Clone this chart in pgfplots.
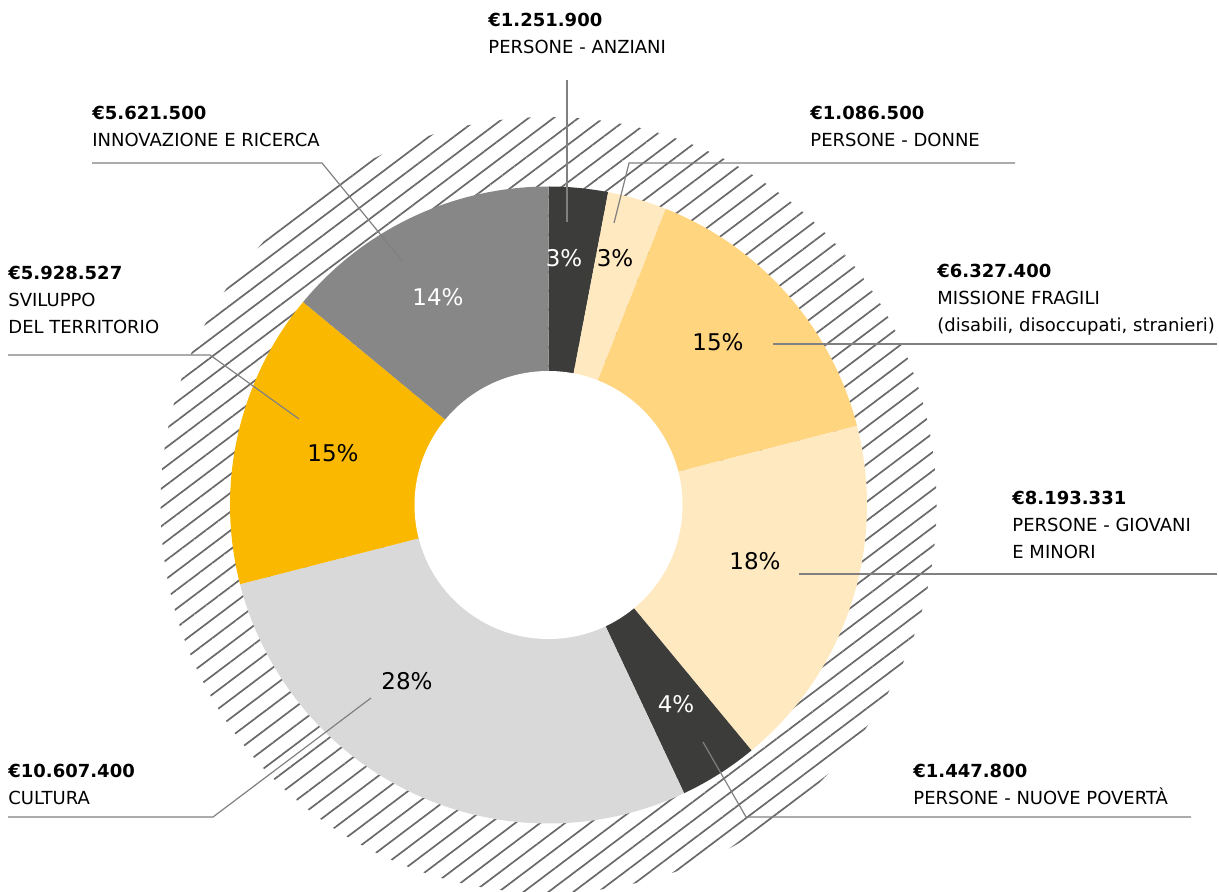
\documentclass[border=0pt]{standalone}
\usepackage{pgfplots}
\pgfplotsset{compat=1.18}
\usepackage{pgfplotstable}
\usetikzlibrary{patterns.meta}
\usepackage{fontspec}
\setmainfont{DejaVu Sans}

\definecolor{cDark}{RGB}{60,60,58}
\definecolor{cCream}{RGB}{255,233,192}
\definecolor{cFra}{RGB}{255,213,128}
\definecolor{cCul}{RGB}{217,217,217}
\definecolor{cTer}{RGB}{251,184,0}
\definecolor{cInn}{RGB}{135,135,135}
\definecolor{hatchgray}{RGB}{105,105,105}
\definecolor{leadgray}{RGB}{128,128,128}

% slice percentages (clockwise from 12 o'clock), fill colour, label position (px), label colour
\pgfplotstableread{
pct col    lx    ly   tc
3   cDark  564   258  white
3   cCream 615   258  black
15  cFra   718   342  black
18  cCream 755   561  black
4   cDark  676   704  white
28  cCul   407   681  black
15  cTer   333   453  black
14  cInn   438   297  white
}\slices

\newcommand{\amt}[1]{{\fontsize{9}{10}\selectfont\bfseries #1}}
\newcommand{\nm}[1]{{\fontsize{9}{10}\selectfont #1}}

\begin{document}
\begin{tikzpicture}
\begin{axis}[hide axis, scale only axis, width=609.5pt, height=446pt,
  xmin=0, xmax=1219, ymin=0, ymax=892, y dir=reverse, clip=true]
\pgfplotsextra{
  \path (axis cs:0,0) (axis cs:1219,892);
  % hatched background disc
  \fill[pattern={Lines[angle=37,distance=7.5pt,line width=0.85pt]}, pattern color=hatchgray]
     (axis cs:548.5,505) circle[radius=194pt];
  % slices
  \gdef\cum{0}
  \pgfplotstablegetrowsof{\slices}
  \pgfmathtruncatemacro\N{\pgfplotsretval-1}
  \foreach \i in {0,...,\N}{
    \pgfplotstablegetelem{\i}{pct}\of\slices \let\p\pgfplotsretval
    \pgfplotstablegetelem{\i}{col}\of\slices \let\c\pgfplotsretval
    \pgfmathsetmacro\aone{90-3.6*\cum}
    \pgfmathsetmacro\atwo{90-3.6*(\cum+\p)}
    \fill[\c] (axis cs:548.5,505) -- ++(\aone:159.25pt)
       arc[start angle=\aone, end angle=\atwo, radius=159.25pt] -- cycle;
    \pgfmathsetmacro\newcum{\cum+\p}\xdef\cum{\newcum}
  }
  \fill[white] (axis cs:548.5,505) circle[radius=67pt];
  % percentage labels
  \foreach \i in {0,...,\N}{
    \pgfplotstablegetelem{\i}{pct}\of\slices \let\p\pgfplotsretval
    \pgfplotstablegetelem{\i}{lx}\of\slices \let\lx\pgfplotsretval
    \pgfplotstablegetelem{\i}{ly}\of\slices \let\ly\pgfplotsretval
    \pgfplotstablegetelem{\i}{tc}\of\slices \let\tc\pgfplotsretval
    \node[text=\tc, font=\fontsize{11.5}{13}\selectfont, inner sep=0pt]
       at (axis cs:\lx,\ly) {\p\%};
  }
  % leader lines
  \begin{scope}[draw=leadgray, line width=0.6pt]
    \draw (axis cs:92,163) -- (axis cs:322,163) -- (axis cs:403,262);
    \draw (axis cs:567,80) -- (axis cs:567,222);
    \draw (axis cs:614,223) -- (axis cs:629,163) -- (axis cs:1015,163);
    \draw (axis cs:8,355) -- (axis cs:210,355) -- (axis cs:299,419);
    \draw (axis cs:773,344) -- (axis cs:1217,344);
    \draw (axis cs:799,574) -- (axis cs:1217,574);
    \draw (axis cs:703,742) -- (axis cs:746,817) -- (axis cs:1191,817);
    \draw (axis cs:371,698) -- (axis cs:213,817) -- (axis cs:8,817);
  \end{scope}
  % text labels
  \begin{scope}[every node/.style={anchor=base west, inner sep=0pt}]
    \node at (axis cs:488,26.5) {\amt{€1.251.900}};
    \node at (axis cs:488,53.5) {\nm{PERSONE - ANZIANI}};
    \node at (axis cs:92,119.5) {\amt{€5.621.500}};
    \node at (axis cs:92,146.5) {\nm{INNOVAZIONE E RICERCA}};
    \node at (axis cs:810,119.5) {\amt{€1.086.500}};
    \node at (axis cs:810,146.5) {\nm{PERSONE - DONNE}};
    \node at (axis cs:8,279.5) {\amt{€5.928.527}};
    \node at (axis cs:8,306.5) {\nm{SVILUPPO}};
    \node at (axis cs:8,333.5) {\nm{DEL TERRITORIO}};
    \node at (axis cs:937,277.5) {\amt{€6.327.400}};
    \node at (axis cs:937,304.5) {\nm{MISSIONE FRAGILI}};
    \node at (axis cs:937,331.5) {\nm{(disabili, disoccupati, stranieri)}};
    \node at (axis cs:1012,504.5) {\amt{€8.193.331}};
    \node at (axis cs:1012,531.5) {\nm{PERSONE - GIOVANI}};
    \node at (axis cs:1012,558.5) {\nm{E MINORI}};
    \node at (axis cs:913,777.5) {\amt{€1.447.800}};
    \node at (axis cs:913,804.5) {\nm{PERSONE - NUOVE POVERTÀ}};
    \node at (axis cs:8,777.5) {\amt{€10.607.400}};
    \node at (axis cs:8,804.5) {\nm{CULTURA}};
  \end{scope}
}
\end{axis}
\end{tikzpicture}
\end{document}
